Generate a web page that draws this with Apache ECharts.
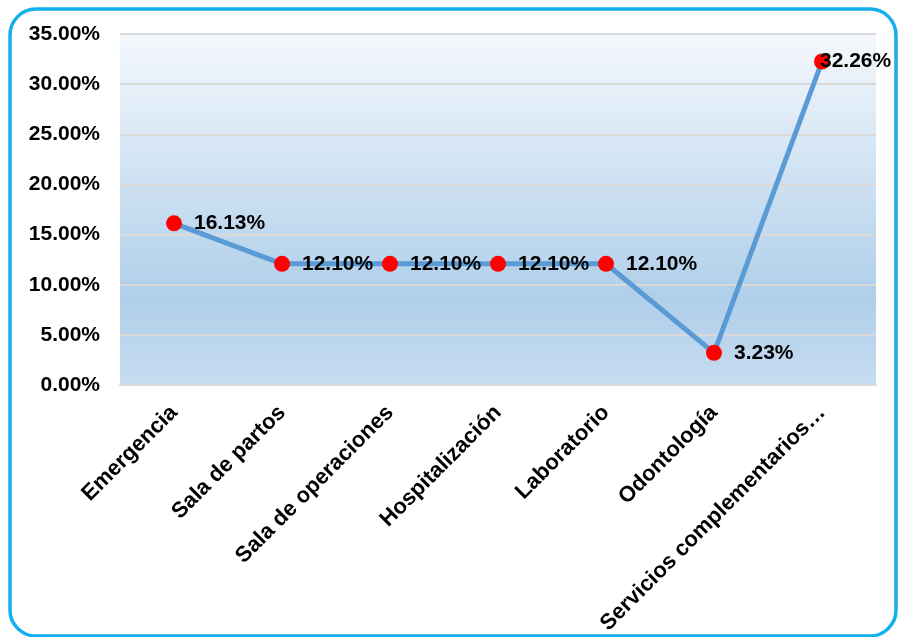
<!DOCTYPE html>
<html>
<head>
<meta charset="utf-8">
<script src="https://cdn.jsdelivr.net/npm/echarts@6/dist/echarts.min.js"></script>
<style>
  html, body { margin: 0; padding: 0; background: #fff; }
  #chart { width: 898px; height: 637px; }
</style>
</head>
<body>
<div id="chart"></div>
<script>
const categories = ['Emergencia', 'Sala de partos', 'Sala de operaciones', 'Hospitalización', 'Laboratorio', 'Odontología', 'Servicios complementarios…']
const values = [16.13, 12.10, 12.10, 12.10, 12.10, 3.23, 32.26]
const yTicks = [0, 5, 10, 15, 20, 25, 30, 35]

const chart = echarts.init(document.getElementById('chart'))
const font = 'Liberation Sans, Arial, sans-serif'

// last label is pushed back onto its marker, as in the original
const seriesData = values.map((v, i) => i === values.length - 1
  ? { value: v, label: { offset: [-22, 0] } }
  : v)

chart.setOption({
  animation: false,
  graphic: [{
    type: 'rect',
    shape: { x: 10, y: 9, width: 886, height: 627, r: 26 },
    style: { fill: 'none', stroke: '#14B0EE', lineWidth: 3.5 },
    z: -1
  }],
  grid: {
    left: 120, right: 22, top: 34, bottom: 250,
    show: true,
    borderWidth: 0,
    backgroundColor: new echarts.graphic.LinearGradient(0, 0, 0, 1, [
      { offset: 0, color: '#F4F8FC' },
      { offset: 0.75, color: '#B0CFEA' },
      { offset: 1, color: '#C6DCF0' }
    ])
  },
  xAxis: {
    type: 'category',
    data: categories,
    boundaryGap: true,
    axisLine: { show: true, lineStyle: { color: '#D9D9D9', width: 2 } },
    axisTick: { show: false },
    axisLabel: {
      rotate: 45,
      interval: 0,
      margin: 24,
      color: '#000',
      fontFamily: font,
      fontWeight: 'bold',
      fontSize: 22
    }
  },
  yAxis: {
    type: 'value',
    min: yTicks[0],
    max: yTicks[yTicks.length - 1],
    interval: 5,
    axisLine: { show: false },
    axisTick: { show: false },
    splitLine: { lineStyle: { color: '#D9D9D9', width: 2 } },
    axisLabel: {
      margin: 20,
      color: '#000',
      fontFamily: font,
      fontWeight: 'bold',
      fontSize: 21,
      formatter: v => v.toFixed(2) + '%'
    }
  },
  series: [{
    type: 'line',
    data: seriesData,
    symbol: 'circle',
    symbolSize: 16,
    itemStyle: { color: '#FF0000' },
    lineStyle: { color: '#5B9BD5', width: 5 },
    label: {
      show: true,
      position: 'right',
      distance: 12,
      color: '#000',
      fontFamily: font,
      fontWeight: 'bold',
      fontSize: 21,
      formatter: p => p.value.toFixed(2) + '%'
    }
  }]
})
</script>
</body>
</html>
